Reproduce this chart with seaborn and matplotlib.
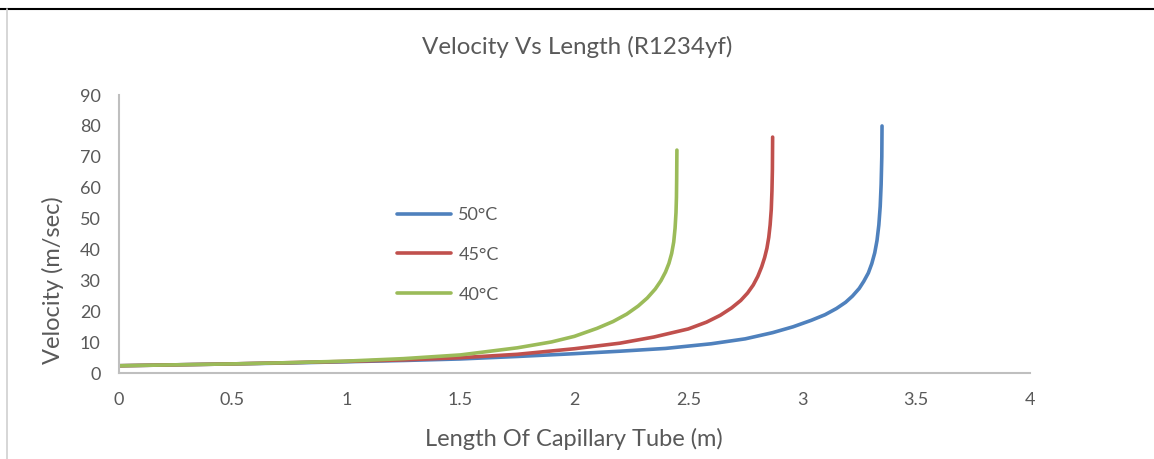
import pandas as pd
import matplotlib.pyplot as plt
import seaborn as sns
from matplotlib.lines import Line2D

# --- Datos ---
len_50 = [0, 0.25, 0.5, 0.75, 1.0, 1.25, 1.5, 1.75, 2.0, 2.2, 2.4, 2.6, 2.75, 2.87,
          2.96, 3.04, 3.1, 3.15, 3.19, 3.22, 3.25, 3.27, 3.29, 3.305, 3.318, 3.328,
          3.336, 3.342, 3.346, 3.349, 3.35]
vel_50 = [2.5, 2.8, 3.1, 3.4, 3.8, 4.2, 4.7, 5.5, 6.4, 7.2, 8.1, 9.6, 11.2, 13.2,
          15.1, 17.2, 19.0, 21.0, 23.0, 25.0, 27.5, 29.8, 32.5, 35.5, 39.0, 43.0,
          48.0, 54.0, 61.0, 70.0, 80.0]

len_45 = [0, 0.25, 0.5, 0.75, 1.0, 1.25, 1.5, 1.75, 2.0, 2.2, 2.35, 2.5, 2.58, 2.64,
          2.69, 2.73, 2.76, 2.785, 2.805, 2.822, 2.835, 2.845, 2.853, 2.859, 2.864,
          2.867, 2.869, 2.87]
vel_45 = [2.5, 2.8, 3.1, 3.5, 3.9, 4.4, 5.1, 6.2, 8.0, 9.8, 11.8, 14.4, 16.6, 18.8,
          21.2, 23.6, 26.0, 28.6, 31.4, 34.5, 37.5, 40.5, 44.0, 48.0, 53.0,
          59.0, 66.0, 76.4]

len_40 = [0, 0.25, 0.5, 0.75, 1.0, 1.25, 1.5, 1.75, 1.9, 2.0, 2.1, 2.17, 2.23, 2.28,
          2.32, 2.355, 2.38, 2.4, 2.415, 2.427, 2.436, 2.442, 2.446, 2.448, 2.449, 2.45]
vel_40 = [2.5, 2.8, 3.1, 3.5, 4.0, 4.8, 6.0, 8.3, 10.2, 12.0, 14.6, 16.8, 19.2, 21.8,
          24.4, 27.3, 30.0, 32.8, 35.6, 38.8, 42.5, 47.0, 52.0, 57.0, 63.0, 72.2]

series = ["50°C", "45°C", "40°C"]
colores = {"50°C": "#4F81BD", "45°C": "#C0504D", "40°C": "#9BBB59"}

df = pd.concat([
    pd.DataFrame({"Length": len_50, "Velocity": vel_50, "Temp": series[0]}),
    pd.DataFrame({"Length": len_45, "Velocity": vel_45, "Temp": series[1]}),
    pd.DataFrame({"Length": len_40, "Velocity": vel_40, "Temp": series[2]}),
], ignore_index=True)

sns.set_style("white")
plt.rcParams['font.family'] = ['Lato', 'DejaVu Sans']
gris = "#595959"

fig = plt.figure(figsize=(11.54, 4.59), dpi=100)
ax = fig.add_axes([0.1027, 0.1863, 0.79, 0.6067])

sns.lineplot(data=df, x="Length", y="Velocity", hue="Temp", hue_order=series,
             palette=colores, sort=False, estimator=None, linewidth=2.6, ax=ax)
for l in ax.get_lines():
    l.set_solid_joinstyle("round")
    l.set_solid_capstyle("round")

ax.set_xlim(0, 4)
ax.set_ylim(0, 90)
ax.set_xticks([0, 0.5, 1, 1.5, 2, 2.5, 3, 3.5, 4])
ax.set_xticklabels(["0", "0.5", "1", "1.5", "2", "2.5", "3", "3.5", "4"])
ax.set_yticks(range(0, 91, 10))
ax.tick_params(labelsize=13, colors=gris, length=0)
ax.tick_params(axis="y", pad=13)
ax.tick_params(axis="x", pad=13)
for s in ["top", "right"]:
    ax.spines[s].set_visible(False)
for s in ["left", "bottom"]:
    ax.spines[s].set_color("#BFBFBF")
    ax.spines[s].set_linewidth(1.5)

ax.set_xlabel("Length Of Capillary Tube (m)", fontsize=17, color=gris)
ax.xaxis.set_label_coords(0.5, -0.195)
ax.set_ylabel("Velocity (m/sec)", fontsize=17, color=gris, va="center")
ax.yaxis.set_label_coords(-0.072, 0.336)
fig.text(0.5, 1 - 47 / 459, "Velocity Vs Length (R1234yf)", ha="center", va="center",
         fontsize=17.4, color=gris)

leg = ax.legend(loc="upper left", bbox_to_anchor=(0.3055, 0.598), frameon=False,
                fontsize=13, handlelength=3.0, handletextpad=0.4, labelspacing=1.32,
                borderpad=0, borderaxespad=0)
for t in leg.get_texts():
    t.set_color(gris)
for l in leg.get_lines():
    l.set_linewidth(2.6)
    l.set_solid_capstyle("round")

# Marco de la captura
fig.add_artist(Line2D([0, 1], [1 - 8.5 / 459, 1 - 8.5 / 459], color="black", linewidth=1.5))
fig.add_artist(Line2D([7 / 1154, 7 / 1154], [0, 1 - 9 / 459], color="#D0D0D0", linewidth=1.2))

plt.savefig("out.png", dpi=100)
plt.close()
